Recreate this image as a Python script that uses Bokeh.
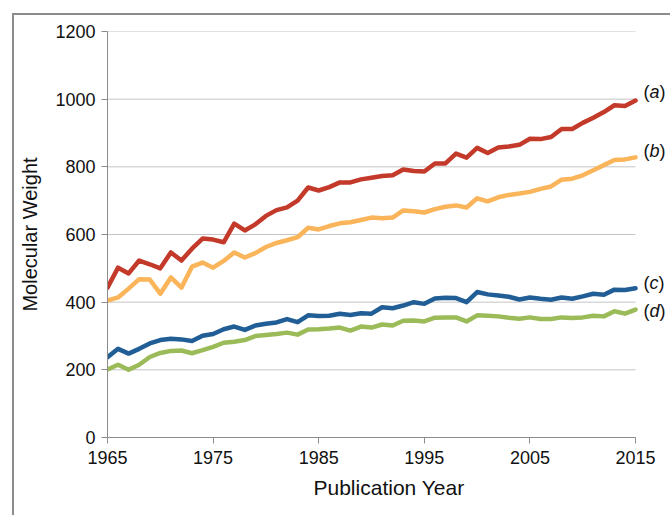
from bokeh.plotting import figure
from bokeh.models import Range1d, FixedTicker, Label
from bokeh.embed import file_html
from bokeh.resources import INLINE

years = list(range(1965, 2016))

series_a = [443, 502, 485, 523, 512, 500, 547, 523, 558, 588, 585, 577, 632, 612, 630, 655, 672, 680, 700, 739,
            730, 740, 754, 754, 763, 768, 773, 775, 792, 788, 786, 810, 810, 839, 827, 856, 841, 857, 860, 865,
            883, 882, 888, 912, 912, 930, 945, 962, 982, 980, 996]
series_b = [405, 414, 440, 468, 467, 425, 473, 443, 505, 517, 502, 522, 547, 532, 545, 563, 575, 583, 592, 620,
            615, 625, 633, 636, 643, 650, 648, 650, 671, 669, 665, 675, 682, 686, 680, 707, 698, 710, 717, 721,
            726, 735, 742, 762, 765, 775, 790, 805, 820, 822, 828]
series_c = [237, 262, 248, 262, 278, 288, 292, 290, 285, 301, 306, 320, 328, 318, 331, 336, 340, 350, 341, 361,
            359, 360, 366, 362, 367, 366, 385, 382, 390, 400, 395, 411, 413, 412, 400, 430, 423, 420, 416, 408,
            414, 410, 407, 414, 410, 417, 425, 422, 437, 436, 441]
series_d = [201, 215, 200, 215, 238, 250, 256, 257, 249, 258, 268, 280, 283, 288, 300, 303, 306, 310, 304, 319,
            320, 322, 325, 316, 328, 325, 334, 331, 345, 346, 343, 354, 355, 355, 343, 361, 360, 358, 354, 351,
            355, 350, 350, 355, 353, 355, 360, 358, 373, 366, 378]

series_letters = ["a", "b", "c", "d"]
label_y = [1020, 848, 458, 375]
x_ticks = [1965, 1975, 1985, 1995, 2005, 2015]
y_ticks = [0, 200, 400, 600, 800, 1000, 1200]

colors = ["#C43A2A", "#FAB45A", "#215E96", "#9BBB59"]
FONT = "Liberation Sans"
X0, X1 = 1965, 2015

p = figure(output_backend="svg", toolbar_location=None,
           width=670, height=515,
           frame_width=563, frame_height=406,
           min_border_left=107, min_border_top=31, min_border_right=0, min_border_bottom=78,
           x_range=Range1d(X0, 2018.31), y_range=Range1d(0, 1200))
p.styles = {"box-shadow": "inset 12px 13px 0 0 white, inset 14px 15px 0 0 #8c8c8c"}
p.outline_line_color = None
p.background_fill_color = None
p.border_fill_color = None

# horizontal gridlines limited to the data span
p.segment(x0=[X0] * len(y_ticks), x1=[X1] * len(y_ticks), y0=y_ticks, y1=y_ticks,
          line_color="#c4c4c4", line_width=1)

for ys, col in zip([series_a, series_b, series_c, series_d], colors):
    p.line(years, ys, line_color=col, line_width=4.5, line_join="round", line_cap="round")

p.xgrid.grid_line_color = None
p.ygrid.grid_line_color = None

p.xaxis.ticker = FixedTicker(ticks=x_ticks)
p.yaxis.ticker = FixedTicker(ticks=y_ticks)
p.xaxis.bounds = (X0, X1)
for ax in (p.xaxis[0], p.yaxis[0]):
    ax.axis_line_color = "#8c8c8c"
    ax.major_tick_line_color = "#8c8c8c"
    ax.major_tick_out = 6
    ax.major_tick_in = 0
    ax.minor_tick_line_color = None
    ax.major_label_text_font = FONT
    ax.major_label_text_font_size = "18px"
    ax.major_label_text_color = "#111111"
    ax.axis_label_text_font = FONT
    ax.axis_label_text_font_style = "normal"
    ax.axis_label_text_color = "#111111"
p.xaxis.axis_label = "Publication Year"
p.yaxis.axis_label = "Molecular Weight"
p.xaxis.axis_label_text_font_size = "21px"
p.yaxis.axis_label_text_font_size = "20px"
p.xaxis.major_label_standoff = 7
p.yaxis.major_label_standoff = 6
p.xaxis.axis_label_standoff = 9
p.yaxis.axis_label_standoff = 11

letter_w = {"a": 10.0, "b": 10.0, "c": 9.0, "d": 10.0}
for letter, yv in zip(series_letters, label_y):
    base = 8
    parts = [("(", "normal", base), (letter, "italic", base + 6.0),
             (")", "normal", base + 6.0 + letter_w[letter])]
    for txt, style, off in parts:
        p.add_layout(Label(x=X1, y=yv, x_offset=off, text=txt,
                           text_font=FONT, text_font_size="18px", text_font_style=style,
                           text_color="#111111", text_baseline="middle", text_align="left"))

open("out.html", "w").write(file_html(p, INLINE))
